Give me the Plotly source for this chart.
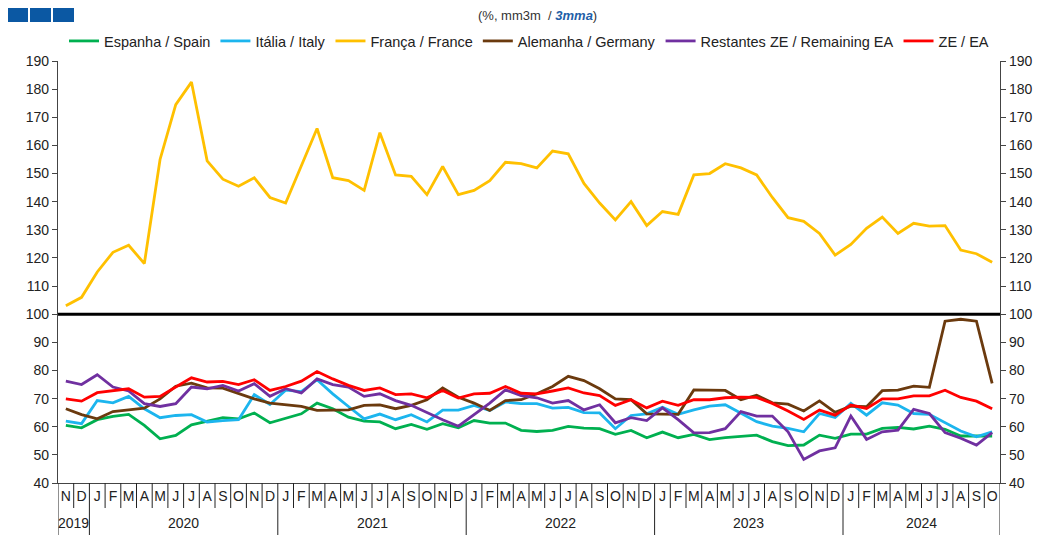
import plotly.graph_objects as go

# ---------------- data ----------------
MONTH_LETTERS = (["N", "D"] + ["J", "F", "M", "A", "M", "J", "J", "A", "S", "O", "N", "D"] * 4
                 + ["J", "F", "M", "A", "M", "J", "J", "A", "S", "O"])
YEARS = ["2019", "2020", "2021", "2022", "2023", "2024"]
YEAR_MONTHS = [2, 12, 12, 12, 12, 10]

spain = [60.5, 59.6, 62.5, 63.7, 64.4, 60.5, 55.7, 56.9, 60.7, 62.0, 63.2, 62.8, 64.9, 61.4,
         63.0, 64.6, 68.4, 66.4, 63.4, 62.0, 61.7, 59.3, 60.8, 59.1, 61.1, 59.6,
         62.2, 61.3, 61.3, 58.7, 58.3, 58.7, 60.1, 59.5, 59.3, 57.3, 58.7, 56.1,
         58.1, 56.1, 57.3, 55.4, 56.1, 56.6, 57.0, 54.7, 53.3, 53.5, 57.0, 55.9,
         57.4, 57.4, 59.4, 59.8, 59.2, 60.2, 59.1, 56.7, 56.7, 56.7]
italy = [62.0, 61.1, 69.3, 68.5, 70.8, 66.4, 63.2, 64.0, 64.3, 61.7, 62.2, 62.5, 71.4, 67.9,
         73.0, 72.5, 76.7, 71.7, 67.2, 62.8, 64.5, 62.5, 64.3, 61.7, 65.9, 65.9,
         67.6, 65.8, 68.8, 68.2, 68.2, 66.6, 66.9, 65.0, 64.9, 59.3, 64.0, 64.6,
         66.9, 64.4, 66.0, 67.3, 67.8, 64.9, 61.8, 60.2, 59.4, 58.2, 64.7, 63.3,
         68.3, 64.1, 68.5, 67.7, 64.7, 64.4, 61.4, 58.5, 56.4, 58.2]
france = [103.0, 106.0, 115.0, 122.0, 124.5, 118.0, 155.0, 174.5, 182.5, 154.5, 148.0, 145.5,
          148.5, 141.5, 139.5, 153.0, 166.0, 148.5, 147.5, 144.0, 164.5, 149.5, 149.0, 142.5,
          152.5, 142.5, 144.0, 147.5, 154.0, 153.5, 152.0, 158.0, 157.0, 146.5, 139.5, 133.5,
          140.0, 131.5, 136.5, 135.5, 149.5, 150.0, 153.5, 152.0, 149.5, 141.5, 134.3, 133.0,
          128.7, 121.0, 124.8, 130.5, 134.5, 128.7, 132.3, 131.3, 131.5, 122.8, 121.5, 118.5]
germany = [66.4, 64.3, 62.8, 65.4, 66.0, 66.6, 69.9, 74.4, 75.5, 73.8, 73.7, 71.7, 69.9, 68.4,
           67.8, 67.2, 65.8, 65.8, 66.0, 67.6, 67.8, 66.4, 67.6, 69.6, 73.8, 70.5,
           68.4, 65.8, 69.3, 69.6, 71.7, 74.3, 77.9, 76.4, 73.5, 69.9, 69.6, 64.6,
           64.4, 64.4, 73.1, 72.9, 72.9, 69.6, 71.2, 68.5, 68.0, 65.6, 69.2, 65.1,
           67.3, 67.1, 72.8, 73.0, 74.4, 74.0, 97.5, 98.2, 97.5, 75.4]
remaining = [76.2, 75.0, 78.5, 74.1, 72.7, 68.2, 67.2, 68.2, 74.1, 73.5, 74.7, 72.7, 75.3, 70.8,
             73.5, 72.0, 77.0, 75.0, 74.1, 70.8, 71.7, 69.3, 67.6, 65.0, 62.5, 60.2,
             64.3, 68.4, 73.1, 71.1, 70.3, 68.4, 69.3, 66.0, 67.8, 61.4, 63.2, 62.2,
             66.7, 62.5, 57.8, 57.9, 59.3, 65.4, 63.8, 63.8, 58.2, 48.4, 51.4, 52.5,
             63.8, 55.5, 58.2, 58.8, 66.2, 64.7, 57.9, 55.9, 53.5, 57.9]
ea = [69.9, 69.1, 72.1, 72.9, 73.5, 70.5, 70.8, 74.1, 77.4, 75.9, 76.1, 75.0, 76.7, 72.9,
      74.3, 76.2, 79.6, 77.0, 74.7, 72.9, 73.8, 71.4, 71.7, 70.3, 72.9, 70.2,
      71.7, 71.9, 74.3, 71.9, 71.7, 72.7, 73.8, 72.0, 71.1, 67.6, 69.6, 66.7,
      69.1, 67.6, 69.6, 69.6, 70.3, 70.5, 70.4, 68.3, 65.6, 62.6, 65.9, 64.1,
      67.7, 66.5, 69.9, 69.9, 71.0, 71.0, 73.0, 70.4, 69.1, 66.4]

SERIES_NAMES = ["Espanha / Spain", "Itália / Italy", "França / France",
                "Alemanha / Germany", "Restantes ZE / Remaining EA", "ZE / EA"]
SERIES_COLORS = ["#00B050", "#1CB5EE", "#FFC000", "#6B3A0E", "#7030A0", "#FF0000"]
REFERENCE_LEVEL = 100
Y_TICKS = list(range(40, 200, 10))

FONT = "Arial, Liberation Sans, sans-serif"
# ---------------------------------------

# the page body has an 8px margin: the figure is sized to fit inside it
BODY = 8
W, H = 1041 - BODY, 535 - BODY
ML, MR, MT, MB = 58 - BODY, 41, 61 - BODY, 52
PW, PH = W - ML - MR, H - MT - MB


def px_x(p):
    return (p - BODY - ML) / PW


def px_y(p):
    return 1 - (p - BODY - MT) / PH


n = len(MONTH_LETTERS)
x = list(range(n))
values = [spain, italy, france, germany, remaining, ea]

fig = go.Figure()
for name, col, vals in zip(SERIES_NAMES, SERIES_COLORS, values):
    fig.add_trace(go.Scatter(x=x, y=vals, name=name, mode="lines",
                             line=dict(color=col, width=2.8)))
# invisible trace to anchor the right-hand axis
fig.add_trace(go.Scatter(x=x, y=ea, yaxis="y2", mode="lines", opacity=0,
                         showlegend=False, hoverinfo="skip", line=dict(width=0)))

shapes = []
shapes.append(dict(type="line", xref="paper", yref="y", x0=0, x1=1,
                   y0=REFERENCE_LEVEL, y1=REFERENCE_LEVEL,
                   line=dict(color="black", width=3), layer="above"))
bounds = [-0.5]
for c in YEAR_MONTHS:
    bounds.append(bounds[-1] + c)
year_bounds = set(bounds)
for k in range(n + 1):
    xb = k - 0.5
    long_ = xb in year_bounds
    shapes.append(dict(type="line", xref="x", yref="paper", x0=xb, x1=xb,
                       y0=0, y1=px_y(535) if long_ else px_y(508),
                       line=dict(color="#222222", width=1)))

annotations = []
for yr, a, b in zip(YEARS, bounds[:-1], bounds[1:]):
    annotations.append(dict(text=yr, x=(a + b) / 2, xref="x", y=px_y(523), yref="paper",
                            showarrow=False, yanchor="middle", xanchor="center",
                            font=dict(family=FONT, size=14, color="#222222")))
annotations.append(dict(
    text="(%, mm3m&nbsp; / <b><i><span style='color:#1F5FA8'>3mma</span></i></b>)",
    xref="paper", yref="paper", x=px_x(537), y=px_y(16),
    showarrow=False, xanchor="center", yanchor="middle",
    font=dict(family=FONT, size=13, color="#333333")))

for k in range(3):
    shapes.append(dict(type="rect", xref="paper", yref="paper",
                       x0=px_x(7 + 23 * k), x1=px_x(7 + 23 * k + 21),
                       y0=px_y(22), y1=px_y(7),
                       fillcolor="#0B58A3", line=dict(width=0)))

yax = dict(range=[40, 190], tickvals=Y_TICKS, ticks="outside", ticklen=5,
           tickcolor="#444444", showline=True, linecolor="#444444", linewidth=1.2,
           showgrid=False, zeroline=False,
           tickfont=dict(family=FONT, size=14, color="#222222"))

fig.update_layout(
    width=W, height=H,
    margin=dict(l=ML, r=MR, t=MT, b=MB, autoexpand=False),
    paper_bgcolor="white", plot_bgcolor="white",
    font=dict(family=FONT, size=14, color="#222222"),
    xaxis=dict(range=[-0.5, n - 0.5], tickmode="array", tickvals=x, ticktext=MONTH_LETTERS,
               ticks="", showline=True, linecolor="#444444", linewidth=1.2,
               showgrid=False, zeroline=False,
               tickfont=dict(family=FONT, size=14, color="#222222")),
    yaxis=yax,
    yaxis2=dict(yax, overlaying="y", side="right", anchor="x"),
    legend=dict(orientation="h", x=0.5, xanchor="center", y=px_y(41),
                yanchor="middle", font=dict(family=FONT, size=14.5, color="#222222"),
                itemwidth=30, bgcolor="rgba(0,0,0,0)"),
    shapes=shapes, annotations=annotations,
    showlegend=True,
)

fig.write_html("out.html")
